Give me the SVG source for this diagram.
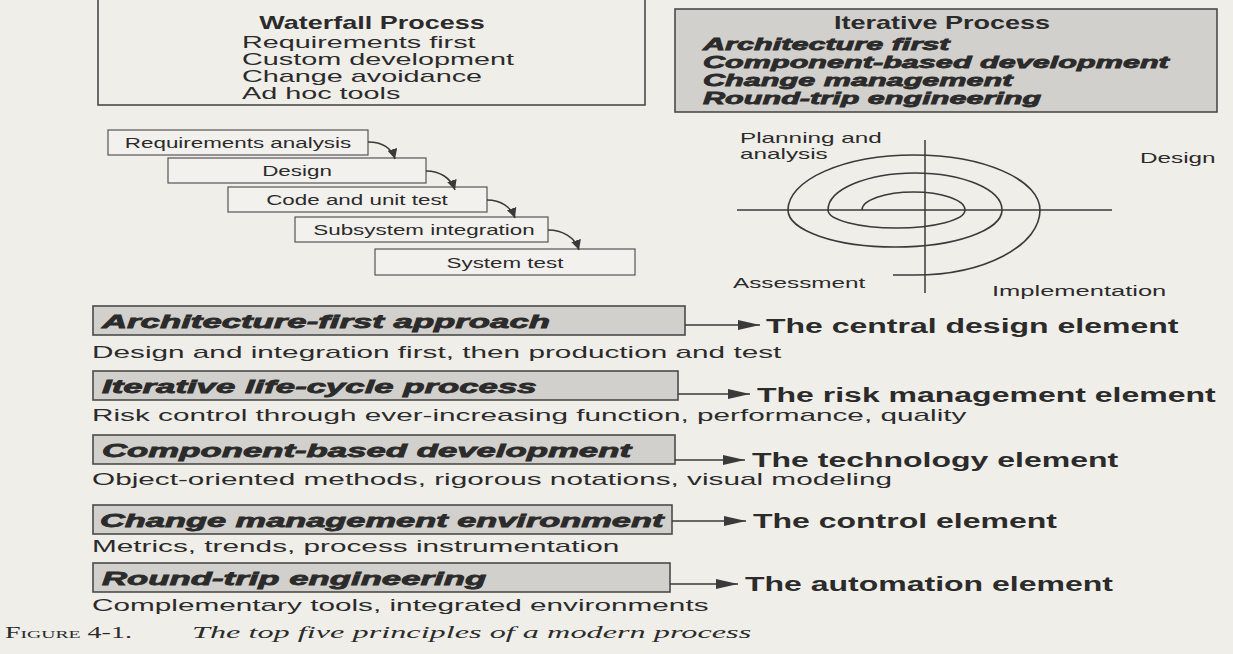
<svg xmlns="http://www.w3.org/2000/svg" width="1233" height="654" viewBox="0 0 1233 654">
<defs>
<style>
.bg{fill:#f0eee9}
.box{fill:none;stroke:#4a4a4a;stroke-width:1.6}
.gbox{fill:#d2d0cc;stroke:#4a4a4a;stroke-width:1.6}
.step{fill:#f3f1ed;stroke:#555;stroke-width:1.2}
.t{font-family:"Liberation Sans",Arial,sans-serif;fill:#2b2b2b}
.b{font-weight:bold}
.h{font-weight:bold;font-style:italic;stroke:#2b2b2b;stroke-width:0.8}
.c{text-anchor:middle}
.cap{font-family:"Liberation Serif","Times New Roman",serif;fill:#2b2b2b}
.ln{fill:none;stroke:#3a3a3a;stroke-width:1.5}
.sp{fill:none;stroke:#3a3a3a;stroke-width:1.6}
</style>
<marker id="ah" markerUnits="userSpaceOnUse" markerWidth="24" markerHeight="12" refX="22" refY="5" orient="auto"><path d="M0,0 L22,5 L0,10 z" fill="#3a3a3a"/></marker>
<marker id="sh" markerUnits="userSpaceOnUse" markerWidth="12" markerHeight="12" refX="10" refY="5" orient="auto"><path d="M0,0 L10,5 L0,10 z" fill="#3a3a3a"/></marker>
</defs>
<rect class="bg" x="0" y="0" width="1233" height="654"/>

<g id="waterfall-process">
<rect class="box" x="98" y="-4" width="547" height="109"/>
<text class="t b c" font-size="18" transform="translate(372,29) scale(1.5,1)">Waterfall Process</text>
<text class="t" font-size="16" transform="translate(242,48) scale(1.8,1)">Requirements first</text>
<text class="t" font-size="16" transform="translate(242,65) scale(1.8,1)">Custom development</text>
<text class="t" font-size="16" transform="translate(242,82) scale(1.8,1)">Change avoidance</text>
<text class="t" font-size="16" transform="translate(242,99) scale(1.8,1)">Ad hoc tools</text>
</g>

<g id="iterative-process">
<rect class="gbox" x="675" y="9" width="542" height="103"/>
<text class="t b c" font-size="18" transform="translate(942,29) scale(1.5,1)">Iterative Process</text>
<text class="t h" font-size="17" transform="translate(703,50) scale(1.8,1)">Architecture first</text>
<text class="t h" font-size="17" transform="translate(703,68) scale(1.8,1)">Component-based development</text>
<text class="t h" font-size="17" transform="translate(703,86) scale(1.8,1)">Change management</text>
<text class="t h" font-size="17" transform="translate(703,104) scale(1.8,1)">Round-trip engineering</text>
</g>

<g id="step-requirements">
<rect class="step" x="108" y="130" width="260" height="25"/>
<text class="t c" font-size="14" transform="translate(238,148) scale(1.6,1)">Requirements analysis</text>
</g>
<g id="step-design">
<rect class="step" x="168" y="158" width="258" height="25"/>
<text class="t c" font-size="14" transform="translate(297,176) scale(1.6,1)">Design</text>
</g>
<g id="step-code">
<rect class="step" x="228" y="187" width="259" height="25"/>
<text class="t c" font-size="14" transform="translate(357,205) scale(1.6,1)">Code and unit test</text>
</g>
<g id="step-subsystem">
<rect class="step" x="295" y="217" width="253" height="25"/>
<text class="t c" font-size="14" transform="translate(424,235) scale(1.6,1)">Subsystem integration</text>
</g>
<g id="step-system">
<rect class="step" x="375" y="249" width="260" height="26"/>
<text class="t c" font-size="14" transform="translate(505,268) scale(1.6,1)">System test</text>
</g>

<g id="spiral">
<line class="ln" x1="925" y1="140" x2="925" y2="293"/>
<line class="ln" x1="737" y1="210" x2="1112" y2="210"/>
<path class="sp" d="M862 210 A51.5 18 0 0 1 965 210 A68.5 18 0 0 1 828 210 A87 37 0 0 1 1002 210 A107 37 0 0 1 788 210 A126 55 0 0 1 1040 210 A125 65 0 0 1 915 275 L893 275"/>
<text class="t" font-size="15" transform="translate(740,143) scale(1.62,1)">Planning and</text>
<text class="t" font-size="15" transform="translate(740,159) scale(1.62,1)">analysis</text>
<text class="t" font-size="15" transform="translate(1140,163) scale(1.62,1)">Design</text>
<text class="t" font-size="15" transform="translate(733,288) scale(1.62,1)">Assessment</text>
<text class="t" font-size="15" transform="translate(992,296) scale(1.7,1)">Implementation</text>
</g>

<g id="principle-architecture">
<rect class="gbox" x="93" y="306" width="592" height="29"/>
<text class="t h" font-size="19" transform="translate(102,328) scale(1.83,1)">Architecture-first approach</text>
<text class="t" font-size="17" transform="translate(92,358) scale(1.75,1)">Design and integration first, then production and test</text>
<text class="t b" font-size="20" transform="translate(766,333) scale(1.6,1)">The central design element</text>
</g>
<g id="principle-iterative">
<rect class="gbox" x="93" y="371" width="585" height="29"/>
<text class="t h" font-size="19" transform="translate(102,393) scale(1.83,1)">Iterative life-cycle process</text>
<text class="t" font-size="17" transform="translate(92,421) scale(1.75,1)">Risk control through ever-increasing function, performance, quality</text>
<text class="t b" font-size="20" transform="translate(757,402) scale(1.6,1)">The risk management element</text>
</g>
<g id="principle-component">
<rect class="gbox" x="93" y="435" width="582" height="29"/>
<text class="t h" font-size="19" transform="translate(102,457) scale(1.83,1)">Component-based development</text>
<text class="t" font-size="17" transform="translate(92,485) scale(1.75,1)">Object-oriented methods, rigorous notations, visual modeling</text>
<text class="t b" font-size="20" transform="translate(752,467) scale(1.6,1)">The technology element</text>
</g>
<g id="principle-change">
<rect class="gbox" x="93" y="505" width="579" height="29"/>
<text class="t h" font-size="19" transform="translate(100,527) scale(1.81,1)">Change management environment</text>
<text class="t" font-size="17" transform="translate(92,552) scale(1.75,1)">Metrics, trends, process instrumentation</text>
<text class="t b" font-size="20" transform="translate(753,528) scale(1.6,1)">The control element</text>
</g>
<g id="principle-roundtrip">
<rect class="gbox" x="93" y="563" width="577" height="29"/>
<text class="t h" font-size="19" transform="translate(102,585) scale(1.83,1)">Round-trip engineering</text>
<text class="t" font-size="17" transform="translate(92,611) scale(1.75,1)">Complementary tools, integrated environments</text>
<text class="t b" font-size="20" transform="translate(745,591) scale(1.6,1)">The automation element</text>
</g>

<g id="connectors">
<path class="ln" d="M368 142 C382 142 392 148 395 159" marker-end="url(#sh)"/>
<path class="ln" d="M426 171 C440 171 451 178 455 190" marker-end="url(#sh)"/>
<path class="ln" d="M487 200 C501 200 511 207 515 218" marker-end="url(#sh)"/>
<path class="ln" d="M548 230 C562 230 575 237 579 250" marker-end="url(#sh)"/>
<line class="ln" x1="685" y1="325" x2="760" y2="325" marker-end="url(#ah)"/>
<line class="ln" x1="678" y1="394" x2="750" y2="394" marker-end="url(#ah)"/>
<line class="ln" x1="675" y1="460" x2="745" y2="460" marker-end="url(#ah)"/>
<line class="ln" x1="672" y1="521" x2="746" y2="521" marker-end="url(#ah)"/>
<line class="ln" x1="670" y1="584" x2="738" y2="584" marker-end="url(#ah)"/>
</g>

<g id="caption">
<text class="cap" font-size="16" font-variant="small-caps" transform="translate(5,638) scale(1.75,1)">Figure 4-1.</text>
<text class="cap" font-size="17" font-style="italic" transform="translate(192,638) scale(1.9,1)">The top five principles of a modern process</text>
</g>
</svg>
